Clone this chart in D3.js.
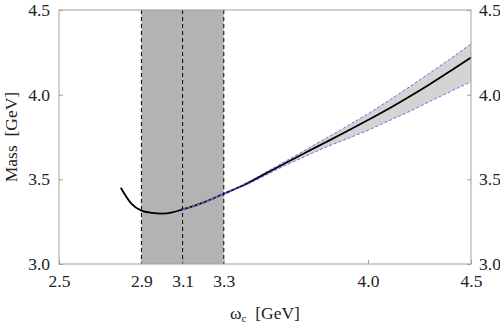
<!DOCTYPE html>
<html>
<head>
<meta charset="utf-8">
<script src="https://cdn.jsdelivr.net/npm/d3@7"></script>
<style>
  body { margin: 0; background: #fff; }
  svg text { font-family: "Liberation Serif", "DejaVu Serif", serif; }
</style>
</head>
<body>
<div id="chart"></div>
<script>
// central curve
const omega = [2.80, 2.85, 2.90, 2.95, 3.00, 3.05, 3.10, 3.20, 3.30, 3.40, 3.50,
               3.60, 3.70, 3.80, 3.90, 4.00, 4.10, 4.20, 4.30, 4.40, 4.50];
const mass = [3.450, 3.358, 3.315, 3.302, 3.298, 3.305, 3.322, 3.362, 3.415, 3.468, 3.532,
              3.596, 3.660, 3.722, 3.785, 3.850, 3.917, 3.988, 4.062, 4.140, 4.220];

// uncertainty band
const bandOmega = [3.1, 3.2, 3.3, 3.4, 3.5, 3.6, 3.7, 3.8, 3.9, 4.0, 4.1, 4.2, 4.3, 4.4, 4.5];
const bandUpper = [3.322, 3.363, 3.418, 3.473, 3.540, 3.607, 3.676, 3.745, 3.815, 3.887, 3.965, 4.045, 4.128, 4.212, 4.300];
const bandLower = [3.322, 3.361, 3.412, 3.462, 3.522, 3.583, 3.638, 3.692, 3.740, 3.790, 3.845, 3.900, 3.960, 4.018, 4.077];

// threshold window
const windowRange = [2.9, 3.3];
const windowLines = [2.9, 3.1, 3.3];

const xTicks = [2.5, 2.9, 3.1, 3.3, 4.0, 4.5];
const yTicks = [3.0, 3.5, 4.0, 4.5];

const margin = {top: 10, right: 29, bottom: 61, left: 59};
const width = 500 - margin.left - margin.right;
const height = 325 - margin.top - margin.bottom;

const svg = d3.select("#chart").append("svg")
    .attr("width", 500)
    .attr("height", 325);

const g = svg.append("g")
    .attr("transform", `translate(${margin.left}, ${margin.top})`);

const x = d3.scaleLinear().domain([2.5, 4.5]).range([0, width]);
const y = d3.scaleLinear().domain([3.0, 4.5]).range([height, 0]);

// shaded window
g.append("rect")
    .attr("x", x(windowRange[0]))
    .attr("y", 0)
    .attr("width", x(windowRange[1]) - x(windowRange[0]))
    .attr("height", height)
    .attr("fill", "#b3b3b3");

// band fill
const band = bandOmega.map((w, i) => ({w, hi: bandUpper[i], lo: bandLower[i]}));
g.append("path")
    .datum(band)
    .attr("fill", "#d4d4d4")
    .attr("d", d3.area().x(d => x(d.w)).y0(d => y(d.lo)).y1(d => y(d.hi)));

// dashed window lines
g.selectAll(".vline")
    .data(windowLines)
    .enter().append("line")
    .attr("x1", d => x(d)).attr("x2", d => x(d))
    .attr("y1", 0).attr("y2", height)
    .attr("stroke", "#000")
    .attr("stroke-width", 1)
    .attr("stroke-dasharray", "4,3");

// central line
const pts = omega.map((w, i) => ({w, m: mass[i]}));
g.append("path")
    .datum(pts)
    .attr("fill", "none")
    .attr("stroke", "#000")
    .attr("stroke-width", 1.8)
    .attr("d", d3.line().x(d => x(d.w)).y(d => y(d.m)).curve(d3.curveMonotoneX));

// band edges
[bandUpper, bandLower].forEach(arr => {
    g.append("path")
        .datum(bandOmega.map((w, i) => ({w, m: arr[i]})))
        .attr("fill", "none")
        .attr("stroke", "#6b6bea")
        .attr("stroke-width", 1)
        .attr("stroke-dasharray", "3,2")
        .attr("d", d3.line().x(d => x(d.w)).y(d => y(d.m)).curve(d3.curveMonotoneX));
});

// frame
g.append("rect")
    .attr("x", 0).attr("y", 0)
    .attr("width", width).attr("height", height)
    .attr("fill", "none")
    .attr("stroke", "#a0a0a0")
    .attr("stroke-width", 1);

const fmt = d3.format(".1f");

const xAxis = g.append("g")
    .attr("transform", `translate(0, ${height})`)
    .call(d3.axisBottom(x).tickValues(xTicks).tickFormat(fmt).tickSize(-4).tickPadding(11));

const yAxisL = g.append("g")
    .call(d3.axisLeft(y).tickValues(yTicks).tickFormat(fmt).tickSize(-4).tickPadding(9));

const yAxisR = g.append("g")
    .attr("transform", `translate(${width}, 0)`)
    .call(d3.axisRight(y).tickValues(yTicks).tickFormat(fmt).tickSize(-4).tickPadding(8));

[xAxis, yAxisL, yAxisR].forEach(a => {
    a.select(".domain").remove();
    a.selectAll(".tick line").attr("stroke", "#a0a0a0");
    a.selectAll("text").attr("font-size", "17.5px").attr("fill", "#222")
        .style("font-family", "'Liberation Serif', serif");
});

// axis labels
const xl = svg.append("text")
    .attr("x", margin.left + width / 2)
    .attr("y", 319)
    .attr("text-anchor", "middle")
    .attr("font-size", "17.5px")
    .attr("fill", "#222")
    .attr("xml:space", "preserve");
xl.append("tspan").text("ω");
xl.append("tspan").attr("font-size", "11px").attr("dy", 3).text("c");
xl.append("tspan").attr("dy", -3).text("  [GeV]");

svg.append("text")
    .attr("transform", `translate(17, ${margin.top + height / 2}) rotate(-90)`)
    .attr("text-anchor", "middle")
    .attr("font-size", "17.5px")
    .attr("fill", "#222")
    .attr("xml:space", "preserve")
    .text("Mass  [GeV]");
</script>
</body>
</html>
